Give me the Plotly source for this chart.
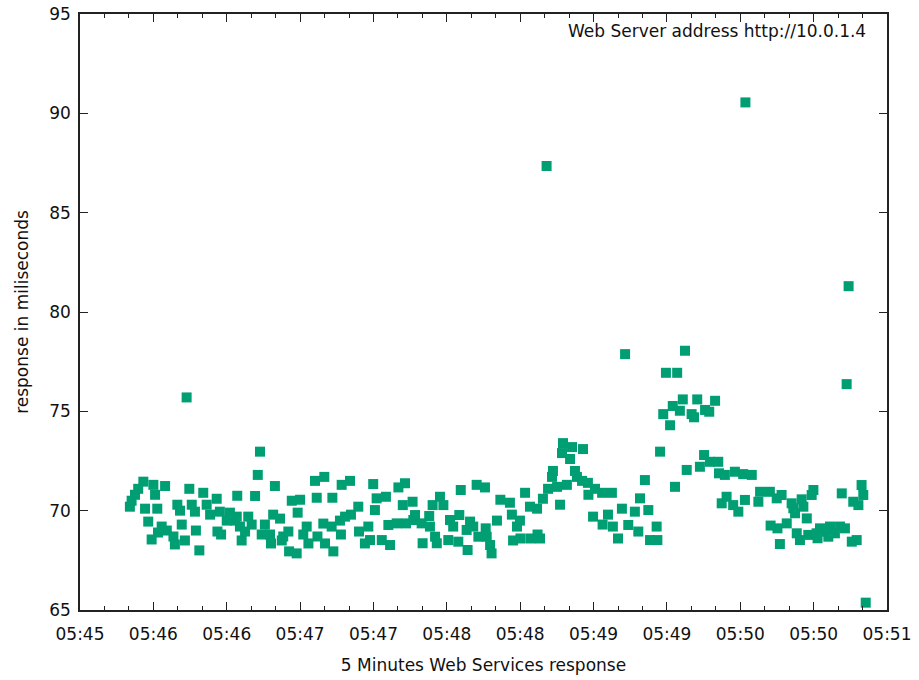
import plotly.graph_objects as go

# Response samples: seconds after 05:45:00 and response time in ms
seconds = [
    20.4, 21.1, 22.5, 23.8, 25.9, 26.6, 27.9, 29.3, 30.0, 30.7, 31.6, 31.9, 33.4, 34.8, 35.5,
    38.2, 38.8, 39.8, 40.9, 41.6, 42.9, 43.6, 44.7, 45.7, 47.0, 47.4, 48.8, 50.4, 51.8, 53.2,
    55.9, 56.2, 57.2, 57.7, 60.0, 61.3, 63.4, 64.1, 64.3, 65.4, 66.1,
    67.5, 68.8, 70.2, 71.6, 72.7, 73.6, 74.3, 75.6, 77.7, 78.1, 79.0, 79.7, 81.8, 82.5, 83.1,
    85.2, 85.5, 86.6, 88.6, 89.0, 90.0, 91.3, 92.7, 93.4, 96.1, 96.8, 97.1, 99.5, 99.9, 100.2,
    102.9, 103.2, 103.6, 106.3, 106.7, 107.0, 108.4, 110.4, 110.8, 113.8, 114.1, 116.5, 117.9,
    118.6, 119.9, 120.6, 121.3, 123.4, 125.1, 126.1, 126.8, 129.5, 130.2, 132.0, 132.9, 133.3,
    136.0, 136.3, 137.0, 139.7, 140.1, 142.8, 143.1, 144.2, 145.2, 145.9, 147.2, 148.6, 150.6,
    151.3, 152.6, 154.7, 155.1, 155.7, 158.1, 158.5, 159.5, 160.8, 162.2, 162.9, 165.6, 165.9,
    166.3, 167.7, 168.3, 170.5,
    171.9, 175.8, 176.6, 177.1, 178.7, 179.9, 180.1, 182.0, 184.0, 184.2, 186.9, 187.1, 188.1,
    189.3, 190.8, 191.4, 193.0, 193.4, 195.1, 196.3, 197.1, 197.5, 199.1, 200.4, 201.2, 202.4,
    203.2, 205.3, 205.7, 207.7, 207.9, 209.8, 210.6, 213.5, 213.7, 215.9, 217.5, 217.9, 220.0,
    221.6,
    222.9, 224.2, 226.9, 228.3, 229.0, 231.0, 232.4, 233.1, 235.8, 236.1, 237.2, 238.5, 239.6,
    241.3, 242.4, 243.3, 244.2, 245.3, 246.5, 247.4, 248.1, 250.1, 251.1, 252.4, 253.5, 255.2,
    255.6, 257.3, 257.6, 259.7, 261.0, 261.3, 262.4, 263.7, 264.4, 267.1, 267.8, 269.2, 271.2,
    271.9, 272.1,
    274.7, 277.4, 278.1, 282.1, 282.4, 284.9, 285.2, 286.2, 286.9, 289.0, 291.0, 291.7, 292.4,
    293.1, 294.4, 295.1, 295.8, 297.2, 297.8, 299.2, 299.9, 301.2, 301.6, 302.6, 304.6, 306.0,
    306.7, 308.7, 310.8, 311.5, 312.8, 313.5, 314.3, 315.6, 316.2, 317.6, 318.3, 319.6, 320.3,
    321.3,
]

response_ms = [
    70.2, 70.5, 70.8, 71.1, 71.46, 70.1, 69.45, 68.55, 71.3, 70.8, 70.1, 68.9, 69.2, 71.24, 69.0,
    68.7, 68.3, 70.3, 70.0, 69.3, 68.5, 75.7, 71.1, 70.3, 69.95, 69.0, 68.0, 70.9, 70.3, 69.8,
    70.6, 68.95, 69.95, 68.8, 69.5, 69.9, 69.5, 69.7, 70.75, 69.2, 68.5,
    68.95, 69.7, 69.3, 70.74, 71.8, 72.97, 68.8, 69.3, 68.8, 68.35, 69.8, 71.24, 69.6, 68.5, 68.7,
    68.95, 67.95, 70.5, 67.85, 69.9, 70.55, 68.8, 69.2, 68.35, 71.5, 70.65, 68.7, 69.35, 71.7, 68.35,
    69.2, 70.65, 67.95, 69.5, 68.8, 71.3, 69.7, 71.5, 69.8, 70.2, 68.95, 68.35, 69.2,
    68.52, 71.34, 70.03, 70.62, 68.52, 70.7, 69.28, 68.27, 69.36, 71.17, 70.28, 71.38, 69.36,
    70.45, 69.53, 69.78, 69.36, 68.36, 69.73, 69.2, 70.28, 68.69, 68.36, 70.7, 70.28, 68.52,
    69.53, 69.2, 68.44, 69.78, 71.04, 69.03, 68.02, 69.45, 69.2, 71.3, 68.69, 71.17, 69.11,
    68.69, 68.27, 67.85, 69.5,
    70.55, 70.4, 69.8, 68.5, 69.2, 69.5, 68.6, 70.9, 70.2, 68.6, 70.1, 68.8, 68.6,
    70.6, 87.35, 71.1, 71.7, 72.0, 71.2, 70.3, 72.9, 73.4, 71.3, 72.6, 73.2, 72.0,
    71.7, 71.5, 73.1, 71.4, 70.8, 69.7, 71.1, 70.9, 69.3, 69.8, 70.9, 69.2, 68.6,
    70.1,
    77.88, 69.28, 69.95, 68.95, 70.62, 71.54, 70.03, 68.52, 69.2, 68.52, 72.97, 74.86, 76.94,
    74.3, 75.27, 71.2, 76.94, 75.03, 75.6, 78.05, 72.05, 74.86, 74.7, 75.6, 72.21, 72.8,
    75.07, 74.98, 72.46, 75.53, 72.46, 71.88, 70.37, 71.8, 70.7, 70.28, 71.96, 69.95, 71.84,
    70.54, 90.55,
    71.8, 70.45, 70.95, 70.95, 69.25, 70.62, 69.11, 68.32, 70.79, 69.36, 70.37, 70.12, 69.87,
    68.86, 68.52, 70.57, 70.2, 69.61, 68.78, 70.79, 71.04, 68.86, 68.61, 69.11, 68.94, 68.69,
    69.2, 68.86, 69.2, 70.87, 69.11, 76.37, 81.3, 68.44, 70.45, 68.52, 70.28, 71.29, 70.79,
    65.37,
]

# Major x ticks every 30 s, labelled hh:mm
tick_seconds = [0, 30, 60, 90, 120, 150, 180, 210, 240, 270, 300, 330]
tick_labels = ["05:45", "05:46", "05:46", "05:47", "05:47", "05:48",
               "05:48", "05:49", "05:49", "05:50", "05:50", "05:51"]
y_ticks = [65, 70, 75, 80, 85, 90, 95]

FONT = "DejaVu Sans, Verdana, sans-serif"
GREEN = "#009E73"
INK = "#111111"

fig = go.Figure(
    go.Scatter(
        x=seconds,
        y=response_ms,
        mode="markers",
        marker=dict(symbol="square", size=10, color=GREEN, line=dict(width=0)),
        showlegend=False,
        hoverinfo="x+y",
    )
)

fig.update_layout(
    width=919,
    height=680,
    margin=dict(l=80, r=32, t=14, b=70),
    paper_bgcolor="white",
    plot_bgcolor="white",
    font=dict(family=FONT, size=17, color=INK),
    annotations=[
        dict(
            text="Web Server address http://10.0.1.4",
            xref="paper", yref="paper",
            x=0.9765, y=0.992,
            xanchor="right", yanchor="top",
            showarrow=False,
            font=dict(family=FONT, size=17, color=INK),
        )
    ],
)

fig.update_xaxes(
    range=[0, 330],
    automargin=False,
    tickmode="array",
    tickvals=tick_seconds,
    ticktext=tick_labels,
    ticks="inside",
    ticklen=8,
    tickwidth=1,
    tickcolor="#222",
    ticklabelstandoff=8,
    minor=dict(dtick=10, tick0=0, ticks="inside", ticklen=4, tickcolor="#222", showgrid=False),
    showline=True,
    linecolor="#222",
    linewidth=1.5,
    mirror="ticks",
    showgrid=False,
    zeroline=False,
    title=dict(text="5 Minutes Web Services response", standoff=16,
               font=dict(family=FONT, size=17)),
)

fig.update_yaxes(
    range=[65, 95],
    automargin=False,
    tickmode="array",
    tickvals=y_ticks,
    ticks="inside",
    ticklen=8,
    tickwidth=1,
    tickcolor="#222",
    ticklabelstandoff=4,
    showline=True,
    linecolor="#222",
    linewidth=1.5,
    mirror="ticks",
    showgrid=False,
    zeroline=False,
    title=dict(text="response in miliseconds", standoff=16,
               font=dict(family=FONT, size=17)),
)

fig.write_html("out.html")
